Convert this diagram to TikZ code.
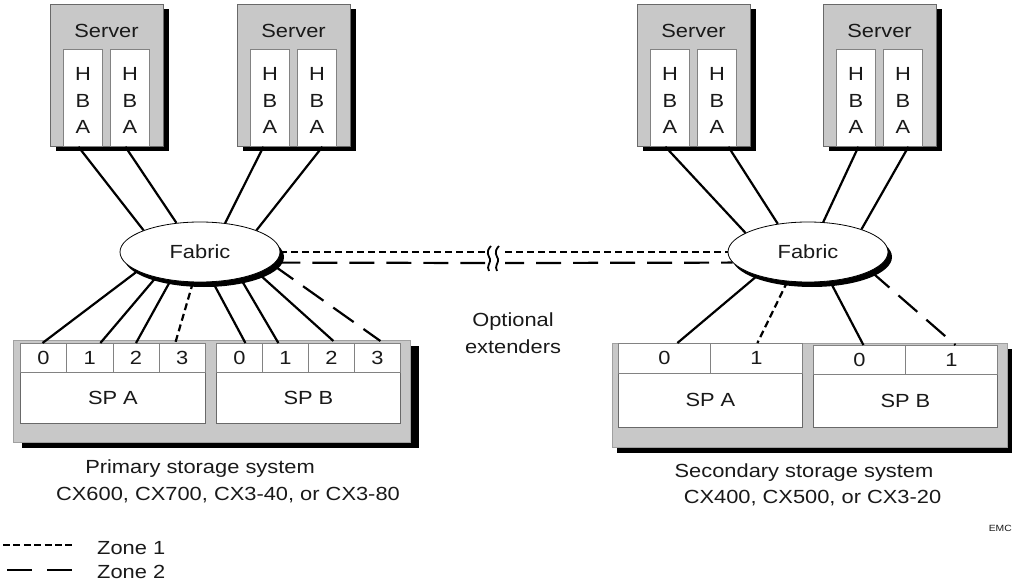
\documentclass[tikz,border=0pt]{standalone}
\usepackage{fontspec}
\setmainfont[FakeStretch=1.15]{Liberation Sans}
\usetikzlibrary{shadows,shapes.geometric}
\definecolor{boxgray}{RGB}{200,200,200}
\definecolor{edge}{RGB}{105,105,105}
\definecolor{cell}{RGB}{130,130,130}
\definecolor{ink}{RGB}{25,25,25}
\begin{document}
\begin{tikzpicture}[x=1pt,y=-1pt,
  txt/.style={font=\fontsize{19}{26.5}\selectfont, text=ink, inner sep=0pt},
  blackshadow/.style 2 args={drop shadow={shadow xshift=#1, shadow yshift=#2, opacity=1, fill=black}},
  server/.style={draw=edge, line width=0.8pt, fill=boxgray, minimum width=113pt, minimum height=142pt, inner sep=0pt, anchor=north west, blackshadow={6pt}{-5pt}},
  hba/.style={draw=cell, line width=0.8pt, fill=white, minimum width=39pt, minimum height=97pt, inner sep=0pt, anchor=north west},
  fabric/.style={ellipse, draw=black, line width=0.8pt, fill=white, minimum width=160pt, minimum height=60pt, inner sep=0pt, txt, blackshadow={4pt}{-5pt}},
  store/.style={draw=boxgray!80!black, line width=0.6pt, fill=boxgray, inner sep=0pt, anchor=north west},
  spbox/.style={draw=edge, line width=0.8pt, fill=white, inner sep=0pt, anchor=north west, txt},
  port/.style={draw=cell, line width=0.8pt, fill=white, inner sep=0pt, anchor=north west, txt},
  link/.style={line width=2.2pt, black},
  zoneone/.style={line width=2.2pt, black, dash pattern=on 7pt off 4pt},
  zonetwo/.style={line width=2.2pt, black, dash pattern=on 25pt off 12pt}
]
\useasboundingbox (0,0) rectangle (1014,585);

% ---------- servers ----------
\foreach \sx/\nm in {50/s1, 237/s2, 637/s3, 823/s4}{
  \node[server] (\nm) at (\sx,4) {};
  \node[txt, anchor=base] (\nm t) at (\sx+56.5,38) {Server};
  \node[hba] (\nm a) at (\sx+13,49) {};
  \node[hba] (\nm b) at (\sx+60,49) {};
  \node[txt, align=center] (\nm at) at ([yshift=-3pt]\nm a.center) {H\\B\\A};
  \node[txt, align=center] (\nm bt) at ([yshift=-3pt]\nm b.center) {H\\B\\A};
}

% ---------- fabrics ----------
\node[fabric] (lf) at (200,252) {Fabric};
\node[fabric] (rf) at (808,252) {Fabric};

% ---------- storage systems ----------
\node[store, blackshadow={9pt}{-6pt}, minimum width=397pt, minimum height=102pt] (ls) at (13,340) {};
\node[store, blackshadow={5pt}{-6pt}, minimum width=395pt, minimum height=104pt] (rs) at (612,343) {};

% left SP A / SP B
\node[spbox, minimum width=185pt, minimum height=51pt] (lspa) at (20,372) {SP A};
\node[spbox, minimum width=184pt, minimum height=51pt] (lspb) at (216,372) {SP B};
\foreach \i in {0,1,2,3}{
  \node[port, minimum width=46.25pt, minimum height=29pt] (la\i) at (20+46.25*\i,343) {\i};
  \node[port, minimum width=46pt, minimum height=29pt] (lb\i) at (216+46*\i,343) {\i};
}
% right SP A / SP B
\node[spbox, minimum width=184pt, minimum height=54pt] (rspa) at (618,373) {SP A};
\node[spbox, minimum width=184pt, minimum height=53pt] (rspb) at (813,374) {SP B};
\foreach \i in {0,1}{
  \node[port, minimum width=92pt, minimum height=30pt] (ra\i) at (618+92*\i,343) {\i};
  \node[port, minimum width=92pt, minimum height=29pt] (rb\i) at (813+92*\i,345) {\i};
}

% ---------- server to fabric links ----------
\draw[link] ([xshift=-4.5pt]s1a.south) -- (lf.159.4);
\draw[link] ([xshift=-4.5pt]s1b.south) -- (lf.129.6);
\draw[link] ([xshift=-6.5pt]s2a.south) -- (lf.49.2);
\draw[link] ([xshift=5.5pt]s2b.south) -- (lf.21.8);
\draw[link] ([xshift=-4.5pt]s3a.south) -- (rf.163.2);
\draw[link] ([xshift=11.5pt]s3b.south) -- (rf.137.9);
\draw[link] ([xshift=2.5pt]s4a.south) -- (rf.63);
\draw[link] ([xshift=5.5pt]s4b.south) -- (rf.23.7);

% ---------- fabric to ports (left) ----------
\draw[link] (lf.197.9) -- ([xshift=-1pt]la0.north);
\draw[link] (lf.210.3) -- ([xshift=10.6pt]la1.north);
\draw[link] (lf.224) -- (la2.north);
\draw[zoneone] (lf.257) -- ([xshift=-7pt]la3.north);
\draw[link] (lf.293.4) -- ([xshift=6pt]lb0.north);
\draw[link] (lf.327) -- ([xshift=-7pt]lb1.north);
\draw[link] (lf.340) -- ([xshift=2pt,yshift=2pt]lb2.north);
\draw[zonetwo] (lf.350.5) -- ([xshift=3pt,yshift=2pt]lb3.north);

% ---------- fabric to ports (right) ----------
\draw[link] (rf.205) -- ([xshift=13pt]ra0.north);
\draw[zoneone] (rf.235.4) -- ([xshift=1pt]ra1.north);
\draw[link] (rf.307.4) -- ([xshift=4pt]rb0.north);
\draw[zonetwo] (rf.343) -- ([xshift=4pt]rb1.north);

% ---------- inter-fabric links with break ----------
\coordinate (bz1) at (485,252);
\coordinate (bz2) at (505,252);
\coordinate (bl1) at (485,263);
\coordinate (bl2) at (505,263);
\draw[zoneone] (lf.0) -- (bz1);
\draw[zoneone] (bz2) -- (rf.180);
\draw[zonetwo] (lf.-8.5) -- (bl1);
\draw[zonetwo, dash phase=6pt] (bl2) -- (rf.188.5);
\draw[line width=1.8pt] (491,246) .. controls (485,252) and (489,256) .. (490,259) .. controls (491,263) and (486,266) .. (489,271);
\draw[line width=1.8pt] (499,246) .. controls (493,252) and (497,256) .. (498,259) .. controls (499,263) and (494,266) .. (497,271);

\node[txt, align=center] (opt) at (513,333) {Optional\\extenders};

% ---------- captions ----------
\node[txt, anchor=base] (pcap1) at (200,473) {Primary storage system};
\node[txt, anchor=base] (pcap2) at (228,500) {CX600, CX700, CX3-40, or CX3-80};
\node[txt, anchor=base] (scap1) at (804,477) {Secondary storage system};
\node[txt, anchor=base] (scap2) at (812.5,503) {CX400, CX500, or CX3-20};

% ---------- legend ----------
\coordinate (z1a) at (3,545);
\coordinate (z1b) at (72,545);
\coordinate (z2a) at (7,570);
\coordinate (z2b) at (72,570);
\draw[line width=2pt, dash pattern=on 7pt off 3.4pt] (z1a) -- (z1b);
\draw[line width=2pt, dash pattern=on 25pt off 15pt] (z2a) -- (z2b);
\node[txt, anchor=base west] (zone1) at (97,554) {Zone 1};
\node[txt, anchor=base west] (zone2) at (97,578) {Zone 2};
\node[inner sep=0pt, anchor=base east, font=\fontsize{9}{10}\selectfont, text=ink] (emc) at (1012,531) {EMC};
\end{tikzpicture}
\end{document}
